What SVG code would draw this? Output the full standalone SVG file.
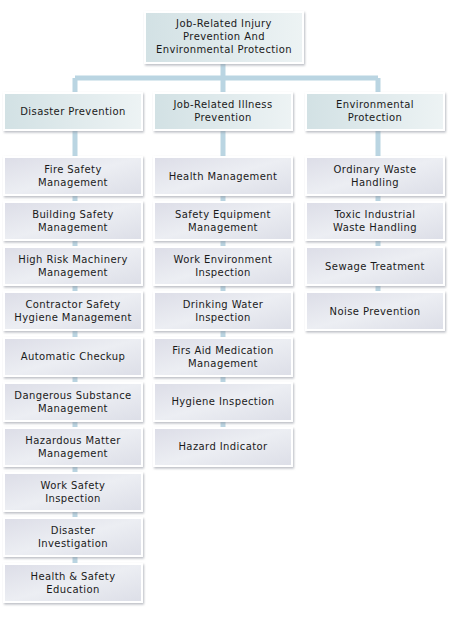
<svg xmlns="http://www.w3.org/2000/svg" width="452" height="617" viewBox="0 0 452 617">
<defs>
<linearGradient id="gh" x1="0" y1="0" x2="1" y2="0">
<stop offset="0" stop-color="#d2e1e4"/><stop offset="1" stop-color="#edf3f4"/>
</linearGradient>
<linearGradient id="gl" x1="0" y1="0" x2="1" y2="1">
<stop offset="0" stop-color="#dcdde7"/><stop offset="0.5" stop-color="#eceef3"/><stop offset="1" stop-color="#dcdee7"/>
</linearGradient>
<filter id="sh" x="-10%" y="-10%" width="120%" height="130%">
<feDropShadow dx="1" dy="1.5" stdDeviation="1.2" flood-color="#8a8f9a" flood-opacity="0.6"/>
</filter>
<style>
.h{fill:url(#gh);stroke:#ffffff;stroke-width:2;filter:url(#sh)}
.l{fill:url(#gl);stroke:#ffffff;stroke-width:2;filter:url(#sh)}
.c{stroke:#bad5e2;stroke-width:5;fill:none}
text{font-family:"DejaVu Sans",Verdana,sans-serif;font-size:10px;letter-spacing:0.4px;fill:#1a1a1a;text-anchor:middle}
</style>
</defs>
<rect width="452" height="617" fill="#ffffff"/>
<g id="connectors">
<path class="c" d="M223 62V78M75 78H378M75 78V94M223 78V94M378 78V94"/>
<path class="c" d="M75 128V585M223 128V450M378 128V320"/>
</g>
<g id="root"><rect class="h" x="145" y="12" width="158" height="51"/>
<text x="224" y="27">Job-Related Injury</text><text x="224" y="40">Prevention And</text><text x="224" y="53">Environmental Protection</text></g>
<g id="disaster"><rect class="h" x="4" y="93" width="138" height="37"/><text x="73" y="114.5">Disaster Prevention</text></g>
<g id="illness"><rect class="h" x="154" y="93" width="138" height="37"/><text x="223" y="108">Job-Related Illness</text><text x="223" y="121">Prevention</text></g>
<g id="env"><rect class="h" x="306" y="93" width="138" height="37"/><text x="375" y="108">Environmental</text><text x="375" y="121">Protection</text></g>

<g id="d1"><rect class="l" x="4" y="157" width="138" height="38"/><text x="73" y="173">Fire Safety</text><text x="73" y="186">Management</text></g>
<g id="d2"><rect class="l" x="4" y="202" width="138" height="38"/><text x="73" y="218">Building Safety</text><text x="73" y="231">Management</text></g>
<g id="d3"><rect class="l" x="4" y="247" width="138" height="38"/><text x="73" y="263">High Risk Machinery</text><text x="73" y="276">Management</text></g>
<g id="d4"><rect class="l" x="4" y="292" width="138" height="38"/><text x="73" y="308">Contractor Safety</text><text x="73" y="321">Hygiene Management</text></g>
<g id="d5"><rect class="l" x="4" y="338" width="138" height="38"/><text x="73" y="360">Automatic Checkup</text></g>
<g id="d6"><rect class="l" x="4" y="383" width="138" height="38"/><text x="73" y="399">Dangerous Substance</text><text x="73" y="412">Management</text></g>
<g id="d7"><rect class="l" x="4" y="428" width="138" height="38"/><text x="73" y="444">Hazardous Matter</text><text x="73" y="457">Management</text></g>
<g id="d8"><rect class="l" x="4" y="473" width="138" height="38"/><text x="73" y="489">Work Safety</text><text x="73" y="502">Inspection</text></g>
<g id="d9"><rect class="l" x="4" y="518" width="138" height="38"/><text x="73" y="534">Disaster</text><text x="73" y="547">Investigation</text></g>
<g id="d10"><rect class="l" x="4" y="564" width="138" height="38"/><text x="73" y="580">Health &amp; Safety</text><text x="73" y="593">Education</text></g>

<g id="i1"><rect class="l" x="154" y="157" width="138" height="38"/><text x="223" y="179.5">Health Management</text></g>
<g id="i2"><rect class="l" x="154" y="202" width="138" height="38"/><text x="223" y="218">Safety Equipment</text><text x="223" y="231">Management</text></g>
<g id="i3"><rect class="l" x="154" y="247" width="138" height="38"/><text x="223" y="263">Work Environment</text><text x="223" y="276">Inspection</text></g>
<g id="i4"><rect class="l" x="154" y="292" width="138" height="38"/><text x="223" y="308">Drinking Water</text><text x="223" y="321">Inspection</text></g>
<g id="i5"><rect class="l" x="154" y="338" width="138" height="38"/><text x="223" y="354">Firs Aid Medication</text><text x="223" y="367">Management</text></g>
<g id="i6"><rect class="l" x="154" y="383" width="138" height="38"/><text x="223" y="405">Hygiene Inspection</text></g>
<g id="i7"><rect class="l" x="154" y="428" width="138" height="38"/><text x="223" y="450">Hazard Indicator</text></g>

<g id="e1"><rect class="l" x="306" y="157" width="138" height="38"/><text x="375" y="173">Ordinary Waste</text><text x="375" y="186">Handling</text></g>
<g id="e2"><rect class="l" x="306" y="202" width="138" height="38"/><text x="375" y="218">Toxic Industrial</text><text x="375" y="231">Waste Handling</text></g>
<g id="e3"><rect class="l" x="306" y="247" width="138" height="38"/><text x="375" y="269.5">Sewage Treatment</text></g>
<g id="e4"><rect class="l" x="306" y="292" width="138" height="38"/><text x="375" y="314.5">Noise Prevention</text></g>
</svg>
